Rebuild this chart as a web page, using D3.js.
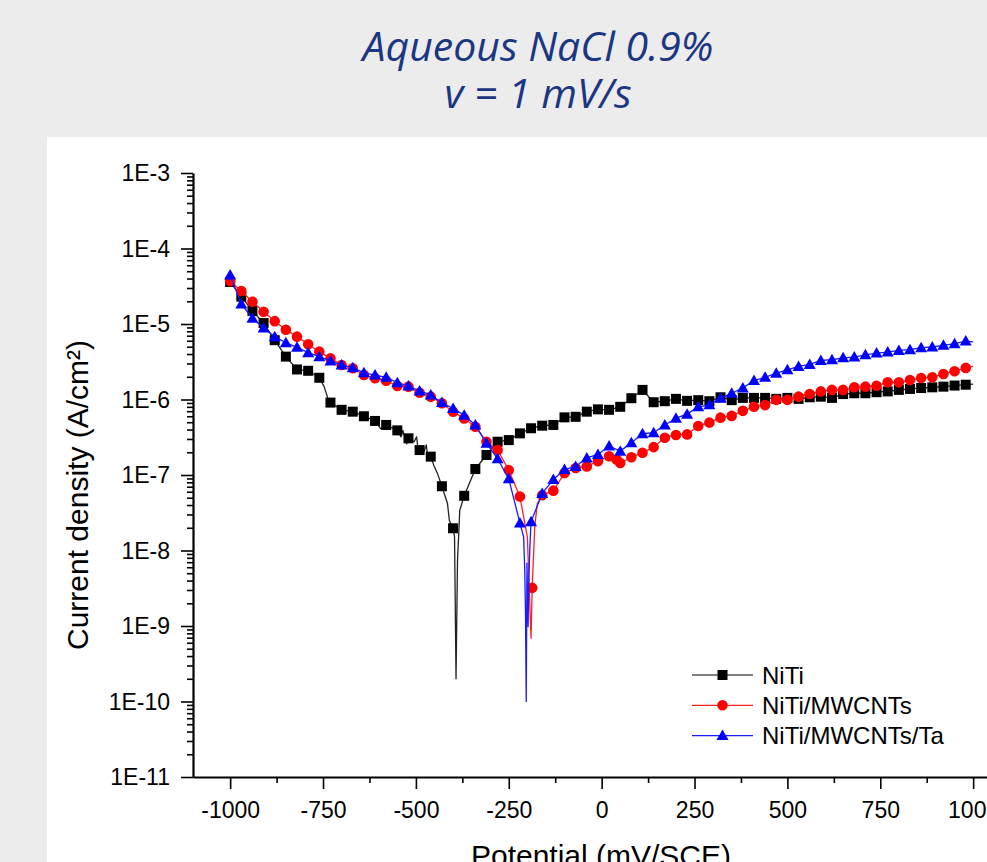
<!DOCTYPE html>
<html>
<head>
<meta charset="utf-8">
<script src="https://cdn.jsdelivr.net/npm/d3@7"></script>
<style>
  html, body { margin: 0; padding: 0; background: #ececec; }
  svg { display: block; }
</style>
</head>
<body>
<svg id="chart" width="987" height="862"></svg>
<script>
// ---------------- DATA ----------------
const titleLines = ["Aqueous NaCl 0.9%", "v = 1 mV/s"];
const xTitle = "Potential (mV/SCE)";
const yTitle = "Current density (A/cm\u00B2)";
const xTickValues = [-1000, -750, -500, -250, 0, 250, 500, 750, 1000];
const xTickLabels = ["-1000", "-750", "-500", "-250", "0", "250", "500", "750", "1000"];
const xMinorValues = [-875, -625, -375, -125, 125, 375, 625, 875];
const yTickValues = [1e-3, 1e-4, 1e-5, 1e-6, 1e-7, 1e-8, 1e-9, 1e-10, 1e-11];
const yTickLabels = ["1E-3", "1E-4", "1E-5", "1E-6", "1E-7", "1E-8", "1E-9", "1E-10", "1E-11"];
const seriesNames = ["NiTi", "NiTi/MWCNTs", "NiTi/MWCNTs/Ta"];

// NiTi : symbol points (mV, A/cm2)
const nitiE = [-1000,-970,-940,-910,-880,-850,-820,-790,-760,-730,-700,-670,-640,-610,-580,-550,-520,-490,-460,-430,-400,-370,-340,-310,-280,-250,-220,-190,-160,-130,-100,-70,-40,-10,20,50,80,110,140,170,200,230,260,290,320,350,380,410,440,470,500,530,560,590,620,650,680,710,740,770,800,830,860,890,920,950,980];
const nitiI = [3.6e-5,2.3e-5,1.49e-5,1.03e-5,6.1e-6,3.7e-6,2.5e-6,2.4e-6,1.94e-6,9.1e-7,7.3e-7,6.9e-7,6.0e-7,5.2e-7,4.6e-7,3.9e-7,3.06e-7,2.14e-7,1.75e-7,7.1e-8,1.97e-8,5.3e-8,1.2e-7,1.84e-7,2.76e-7,2.9e-7,3.56e-7,4.16e-7,4.5e-7,4.6e-7,5.8e-7,5.9e-7,6.9e-7,7.4e-7,7.3e-7,8.0e-7,1.04e-6,1.34e-6,9.2e-7,9.5e-7,1.02e-6,9.6e-7,9.8e-7,9.5e-7,1.07e-6,9.8e-7,1.05e-6,1.05e-6,1.05e-6,1.02e-6,1.05e-6,1.02e-6,1.07e-6,1.09e-6,1.05e-6,1.18e-6,1.21e-6,1.21e-6,1.25e-6,1.28e-6,1.34e-6,1.38e-6,1.42e-6,1.45e-6,1.48e-6,1.53e-6,1.57e-6];
// NiTi : extra recorded points between symbols (line only)
const nitiLineE = [-747,-737,-595,-540,-535,-525,-505,-498,-495,-478,-472,-468,-452,-442,-415,-410,-396,-392,-388,-385,-382,1000];
const nitiLineI = [1.48e-6,1.04e-6,4.1e-7,3.2e-7,3.9e-7,2.58e-7,2.76e-7,3.2e-7,2.35e-7,2.04e-7,2.5e-7,1.73e-7,1.35e-7,1.05e-7,4.2e-8,2.5e-8,1.52e-8,2.0e-10,7.4e-9,1.52e-8,3.4e-8,1.6e-6];

// NiTi/MWCNTs
const mwE = [-1000,-970,-940,-910,-880,-850,-820,-790,-760,-730,-700,-670,-640,-610,-580,-550,-520,-490,-460,-430,-400,-370,-340,-310,-280,-250,-220,-187,-160,-130,-100,-70,-40,-10,20,40,50,80,110,140,170,200,230,260,290,320,350,380,410,440,470,500,530,560,590,620,650,680,710,740,770,800,830,860,890,920,950,980];
const mwI = [3.7e-5,2.74e-5,1.97e-5,1.45e-5,1.09e-5,8.4e-6,6.8e-6,5.4e-6,4.3e-6,3.5e-6,2.86e-6,2.59e-6,2.11e-6,1.91e-6,1.77e-6,1.51e-6,1.48e-6,1.23e-6,1.09e-6,8.9e-7,6.9e-7,5.6e-7,4.36e-7,2.76e-7,2.14e-7,1.16e-7,5.2e-8,3.2e-9,5.4e-8,6.2e-8,1.06e-7,1.24e-7,1.30e-7,1.52e-7,1.77e-7,1.6e-7,1.44e-7,1.72e-7,1.97e-7,2.34e-7,3.12e-7,3.39e-7,3.45e-7,4.46e-7,4.94e-7,5.75e-7,6.06e-7,7.07e-7,8.0e-7,8.43e-7,9.9e-7,9.9e-7,1.09e-6,1.18e-6,1.28e-6,1.34e-6,1.34e-6,1.45e-6,1.48e-6,1.52e-6,1.69e-6,1.69e-6,1.81e-6,1.93e-6,1.97e-6,2.18e-6,2.37e-6,2.62e-6];
const mwLineE = [-200,-190,-180,-173,1000];
const mwLineI = [1.5e-8,6.9e-10,2.1e-8,4.2e-8,2.74e-6];

// NiTi/MWCNTs/Ta
const taE = [-1000,-970,-940,-910,-880,-850,-820,-790,-760,-730,-700,-670,-640,-610,-580,-550,-520,-490,-460,-430,-400,-370,-340,-310,-280,-250,-220,-190,-160,-130,-100,-70,-40,-10,20,50,80,110,140,170,200,230,260,290,320,350,380,410,440,470,500,530,560,590,620,650,680,710,740,770,800,830,860,890,920,950,980];
const taI = [4.46e-5,1.84e-5,1.19e-5,8.85e-6,6.8e-6,5.65e-6,4.91e-6,4.17e-6,3.69e-6,3.24e-6,2.86e-6,2.64e-6,2.26e-6,2.11e-6,1.97e-6,1.67e-6,1.51e-6,1.30e-6,1.15e-6,9.1e-7,7.6e-7,6.2e-7,4.6e-7,2.63e-7,1.64e-7,8.9e-8,2.31e-8,2.4e-8,5.7e-8,8.7e-8,1.18e-7,1.30e-7,1.68e-7,1.87e-7,2.42e-7,2.07e-7,2.67e-7,3.52e-7,3.63e-7,4.6e-7,5.65e-7,6.4e-7,8.0e-7,8.5e-7,1.04e-6,1.21e-6,1.42e-6,1.78e-6,1.97e-6,2.23e-6,2.47e-6,2.74e-6,2.91e-6,3.29e-6,3.36e-6,3.57e-6,3.65e-6,3.91e-6,4.12e-6,4.25e-6,4.47e-6,4.57e-6,4.86e-6,4.96e-6,5.22e-6,5.48e-6,5.95e-6];
const taLineE = [-210,-207,-205,-203,-201,-198,-196,-193,1000];
const taLineI = [1.52e-8,5.5e-9,1.49e-9,1.0e-10,6.8e-9,9.8e-10,4.1e-9,1.17e-8,5.8e-6];

// ---------------- STYLE ----------------
const seriesColors = ["#000000", "#ff0000", "#0000ff"];
const lineColors = ["#222222", "#ff2020", "#1a1aff"];
const symbols = ["square", "circle", "triangle"];

const W = 987, H = 862;
const svg = d3.select("#chart");
const FONT = "'Liberation Sans', Arial, sans-serif";

// background
svg.append("rect").attr("width", W).attr("height", H).attr("fill", "#ececec");
svg.append("rect").attr("x", 47).attr("y", 137).attr("width", W - 47).attr("height", H - 137).attr("fill", "#ffffff");

// titles
svg.append("g").selectAll("text").data(titleLines).join("text")
  .attr("x", 538).attr("y", (d, i) => 61 + i * 47)
  .attr("text-anchor", "middle")
  .attr("font-family", "'Open Sans', 'Noto Sans', sans-serif")
  .attr("font-style", "italic")
  .attr("font-size", 41)
  .attr("fill", "#1b3683")
  .text(d => d);

// scales
const x = d3.scaleLinear().domain([-1100, 1100]).range([193, 1010.3]);
const y = d3.scaleLog().domain([1e-11, 1e-3]).range([777, 173]);

// axes
const AX = "#000";
const xAxisG = svg.append("g").attr("transform", "translate(0,777)");
xAxisG.call(d3.axisBottom(x).tickValues(xMinorValues).tickSize(6).tickSizeOuter(0).tickFormat(""));
xAxisG.call(g => g.select(".domain").remove());
const xAxisMajor = svg.append("g").attr("transform", "translate(0,777)")
  .call(d3.axisBottom(x).tickValues(xTickValues).tickSize(12).tickSizeOuter(0)
    .tickFormat((d, i) => xTickLabels[i]));
xAxisMajor.selectAll("text").attr("y", 41).attr("dy", 0)
  .attr("font-family", FONT).attr("font-size", 23).attr("fill", "#000");

const yMinor = [];
yTickValues.slice(1).forEach(dec => { for (let k = 2; k <= 9; k++) yMinor.push(dec * k); });
const yAxisMinor = svg.append("g").attr("transform", "translate(193,0)")
  .call(d3.axisLeft(y).tickValues(yMinor).tickSize(6).tickSizeOuter(0).tickFormat(""));
yAxisMinor.select(".domain").remove();
const yAxisMajor = svg.append("g").attr("transform", "translate(193,0)")
  .call(d3.axisLeft(y).tickValues(yTickValues).tickSize(12).tickSizeOuter(0).tickPadding(11)
    .tickFormat((d, i) => yTickLabels[i]));
yAxisMajor.selectAll("text").attr("font-family", FONT).attr("font-size", 23).attr("fill", "#000").attr("dy", "0.33em");

svg.selectAll(".tick line").attr("stroke", AX).attr("stroke-width", 1.6);
svg.selectAll(".domain").attr("stroke", AX).attr("stroke-width", 2.2);

// axis titles
svg.append("text").attr("x", 601).attr("y", 866).attr("text-anchor", "middle")
  .attr("font-family", FONT).attr("font-size", 30).attr("fill", "#000").text(xTitle);
svg.append("text").attr("transform", "translate(88,495) rotate(-90)").attr("text-anchor", "middle")
  .attr("font-family", FONT).attr("font-size", 30).attr("fill", "#000").text(yTitle);

// symbol drawing
function drawSymbol(sel, kind, color) {
  if (kind === "square") {
    sel.append("rect").attr("x", -5).attr("y", -5).attr("width", 10).attr("height", 10).attr("fill", color);
  } else if (kind === "circle") {
    sel.append("circle").attr("r", 5.3).attr("fill", color);
  } else {
    sel.append("path").attr("d", "M0,-6L6,4.5L-6,4.5Z").attr("fill", color);
  }
}

// series
const seriesData = [
  { mE: nitiE, mI: nitiI, lE: nitiLineE, lI: nitiLineI },
  { mE: mwE, mI: mwI, lE: mwLineE, lI: mwLineI },
  { mE: taE, mI: taI, lE: taLineE, lI: taLineI }
];

const line = d3.line().x(d => x(d.E)).y(d => y(d.I));

seriesData.forEach((s, si) => {
  const marks = s.mE.map((e, i) => ({ E: e, I: s.mI[i] }));
  const pts = marks.concat(s.lE.map((e, i) => ({ E: e, I: s.lI[i] }))).sort((a, b) => a.E - b.E);
  const g = svg.append("g");
  g.append("path").datum(pts).attr("d", line).attr("fill", "none")
    .attr("stroke", lineColors[si]).attr("stroke-width", 1.3).attr("stroke-linejoin", "round");
  g.selectAll("g.m").data(marks).join("g").attr("class", "m")
    .attr("transform", d => `translate(${x(d.E)},${y(d.I)})`)
    .each(function () { drawSymbol(d3.select(this), symbols[si], seriesColors[si]); });
});

// legend
const leg = svg.append("g");
seriesNames.forEach((name, i) => {
  const cy = 675 + i * 30.3;
  leg.append("line").attr("x1", 692).attr("x2", 753).attr("y1", cy).attr("y2", cy)
    .attr("stroke", i === 0 ? "#555" : lineColors[i]).attr("stroke-width", 1.3);
  const m = leg.append("g").attr("transform", `translate(722.5,${cy})`);
  drawSymbol(m, symbols[i], seriesColors[i]);
  leg.append("text").attr("x", 762).attr("y", cy + 8.5)
    .attr("font-family", FONT).attr("font-size", 24).attr("fill", "#000").text(name);
});
</script>
</body>
</html>
